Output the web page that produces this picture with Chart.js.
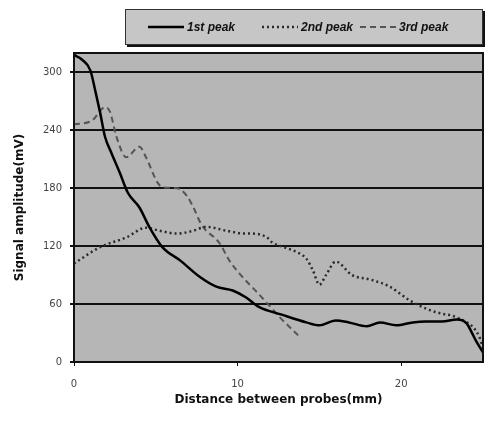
<!DOCTYPE html>
<html><head><meta charset="utf-8">
<script src="https://cdn.jsdelivr.net/npm/chart.js@4/dist/chart.umd.min.js"></script>
<style>html,body{margin:0;padding:0;background:#fff}#wrap{width:496px;height:426px}</style>
</head><body><div id="wrap"><canvas id="c" width="496" height="426"></canvas></div>
<script>
// ---- data ----
const seriesNames = ['1st peak', '2nd peak', '3rd peak'];

const peak1X = [0, 0.5, 1, 1.3, 1.6, 1.9, 2.3, 2.8, 3.3, 4, 4.6, 5.4, 6.5, 7.7, 8.7, 9.7, 10.5, 11.3, 12.7, 14.2, 15, 16, 16.8, 17.9, 18.7, 19.7, 20.7, 21.5, 22.5, 23.4, 24, 24.3, 24.6, 25];
const peak1Y = [318, 313, 302, 281, 258, 233, 216, 196, 175, 160, 140, 119, 105, 88, 78, 74, 67, 57, 49, 41, 38, 43, 41, 37, 41, 38, 41, 42, 42, 44, 40, 31, 21, 10];

const peak2X = [0, 1.6, 3.2, 4.4, 5.2, 6.3, 7.3, 8.1, 9.3, 10.5, 10.9, 11.8, 12.1, 12.8, 13.6, 14.2, 14.6, 15.0, 15.4, 16.0, 17.0, 18.2, 19.3, 20.5, 21.7, 22.5, 23.1, 24.1, 24.4, 24.8, 25];
const peak2Y = [102, 119, 129, 139, 136, 133, 136, 140, 136, 133, 133, 129, 124, 119, 114, 107, 95, 80, 90, 104, 90, 85, 78, 64, 54, 50, 48, 40, 36, 25, 15];

const peak3X = [0, 1.1, 1.9, 2.2, 2.6, 3.2, 4.0, 4.4, 5.1, 5.4, 6.3, 6.9, 7.3, 7.8, 8.9, 9.5, 10.3, 11.2, 11.8, 12.6, 13.8];
const peak3Y = [246, 250, 264, 259, 233, 212, 223, 212, 186, 181, 180, 172, 160, 142, 123, 105, 88, 72, 61, 46, 26];

const yTickValues = [0, 60, 120, 180, 240, 300];
const xTickValues = [0, 10, 20];
const xAxisTitle = 'Distance between probes(mm)';
const yAxisTitle = 'Signal amplitude(mV)';

function pts(xs, ys) { return xs.map((x, i) => ({ x: x, y: ys[i] })); }

// plot background + border
const plotFrame = {
  id: 'plotFrame',
  beforeDraw(chart) {
    const { ctx, chartArea: a } = chart;
    ctx.save();
    ctx.fillStyle = '#b6b6b6';
    ctx.fillRect(a.left, a.top, a.right - a.left, a.bottom - a.top);
    ctx.restore();
  },
  afterDraw(chart) {
    const { ctx, chartArea: a } = chart;
    ctx.save();
    ctx.strokeStyle = '#111';
    ctx.lineWidth = 2;
    ctx.strokeRect(a.left, a.top, a.right - a.left, a.bottom - a.top);
    ctx.restore();
  }
};

// boxed legend like the reference
const boxLegend = {
  id: 'boxLegend',
  afterDraw(chart) {
    const ctx = chart.ctx;
    const bx = 125, by = 9, bw = 358, bh = 36;
    ctx.save();
    ctx.fillStyle = '#c6c6c6';
    ctx.fillRect(bx, by, bw, bh);
    ctx.fillStyle = '#111';
    ctx.fillRect(bx + 2, by + bh, bw, 2);
    ctx.fillRect(bx + bw, by + 2, 2, bh);
    ctx.strokeStyle = '#333';
    ctx.lineWidth = 1;
    ctx.strokeRect(bx + 0.5, by + 0.5, bw - 1, bh - 1);
    const lineStarts = [148, 262, 360];
    const lineLen = 36;
    const cy = 27;
    ctx.font = 'italic bold 12px "Liberation Sans", Arial, sans-serif';
    ctx.textBaseline = 'middle';
    chart.data.datasets.forEach((ds, i) => {
      const x0 = lineStarts[i];
      ctx.strokeStyle = ds.borderColor;
      ctx.lineWidth = ds.borderWidth;
      ctx.setLineDash(ds.borderDash || []);
      ctx.beginPath();
      ctx.moveTo(x0, cy);
      ctx.lineTo(x0 + lineLen, cy);
      ctx.stroke();
      ctx.setLineDash([]);
      ctx.fillStyle = '#111';
      ctx.fillText(ds.label, x0 + lineLen + 3, cy + 1);
    });
    ctx.restore();
  }
};

new Chart(document.getElementById('c'), {
  type: 'line',
  data: {
    datasets: [
      { label: seriesNames[0], data: pts(peak1X, peak1Y), borderColor: '#000', borderWidth: 2.5, pointRadius: 0, cubicInterpolationMode: 'monotone', fill: false },
      { label: seriesNames[1], data: pts(peak2X, peak2Y), borderColor: '#2a2a2a', borderWidth: 2.5, borderDash: [2, 3], pointRadius: 0, cubicInterpolationMode: 'monotone', fill: false },
      { label: seriesNames[2], data: pts(peak3X, peak3Y), borderColor: '#555', borderWidth: 2, borderDash: [6, 4], pointRadius: 0, cubicInterpolationMode: 'monotone', fill: false }
    ]
  },
  options: {
    responsive: false,
    animation: false,
    devicePixelRatio: 1,
    layout: { padding: { top: 53, right: 13, left: 0, bottom: 0 } },
    plugins: { legend: { display: false }, tooltip: { enabled: false } },
    scales: {
      x: {
        type: 'linear', min: 0, max: 25,
        afterBuildTicks: s => { s.ticks = xTickValues.map(v => ({ value: v })); },
        afterFit: s => { s.height = 64; },
        grid: { drawOnChartArea: false, drawTicks: true, tickLength: 4, color: '#111' },
        border: { display: true, color: '#111', width: 2 },
        ticks: { padding: 12, color: '#444', font: { family: '"DejaVu Sans", sans-serif', size: 10 } },
        title: { display: true, text: xAxisTitle, color: '#111', padding: { top: 0, bottom: 19 }, font: { family: '"DejaVu Sans", sans-serif', size: 12, weight: 'bold' } }
      },
      y: {
        type: 'linear', min: 0, max: 320,
        afterBuildTicks: s => { s.ticks = yTickValues.map(v => ({ value: v })); },
        afterFit: s => { s.width = 74; },
        grid: { drawOnChartArea: true, drawTicks: true, tickLength: 4, color: '#111', lineWidth: 2 },
        border: { display: true, color: '#111', width: 2 },
        ticks: { padding: 8, color: '#444', font: { family: '"DejaVu Sans", sans-serif', size: 10 } },
        title: { display: true, text: yAxisTitle, color: '#111', padding: { top: 13, bottom: 0 }, font: { family: '"DejaVu Sans", sans-serif', size: 12, weight: 'bold' } }
      }
    }
  },
  plugins: [plotFrame, boxLegend]
});
</script>
</body></html>
